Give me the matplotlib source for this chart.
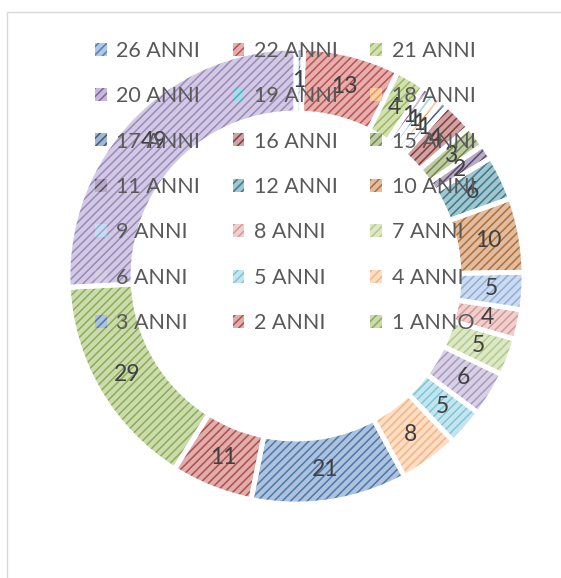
import matplotlib.pyplot as plt
import matplotlib.colors as mcolors
from matplotlib.patches import Rectangle
import numpy as np

plt.rcParams['font.family'] = ['Lato', 'DejaVu Sans']
plt.rcParams['hatch.linewidth'] = 1.1

# data (clockwise from the top)
labels = ["26 ANNI", "22 ANNI", "21 ANNI", "20 ANNI", "19 ANNI", "18 ANNI",
          "17 ANNI", "16 ANNI", "15 ANNI", "11 ANNI", "12 ANNI", "10 ANNI",
          "9 ANNI", "8 ANNI", "7 ANNI", "6 ANNI", "5 ANNI", "4 ANNI",
          "3 ANNI", "2 ANNI", "1 ANNO", ""]
values = [1, 13, 4, 1, 1, 1, 1, 4, 3, 2, 6, 10, 5, 4, 5, 6, 5, 8, 21, 11, 29, 49]
colors = ["#4F81BD", "#C0504D", "#9BBB59", "#8064A2", "#4BACC6", "#F79646",
          "#385D8A", "#8C3836", "#71893F", "#5C4776", "#357D91", "#B66D31",
          "#8EAEDB", "#D99694", "#B3CC84", "#A898C4", "#7EC6DA", "#F9B47E",
          "#4A78B0", "#B54B48", "#8CAE4E", "#9C88BE"]

def lighten(c, f):
    r, g, b = mcolors.to_rgb(c)
    return (r + (1 - r) * f, g + (1 - g) * f, b + (1 - b) * f)

W, H = 561, 578
fig = plt.figure(figsize=(W / 100, H / 100), dpi=100)
cx, cy, R = 296, 276, 228
ax = fig.add_axes([(cx - R) / W, (H - cy - R) / H, 2 * R / W, 2 * R / H])

ring = 0.285
wedges, _ = ax.pie(values, startangle=90, counterclock=False, radius=1,
                   wedgeprops=dict(width=ring, linewidth=0))
for w, c in zip(wedges, colors):
    w.set_facecolor(lighten(c, 0.55))
    w.set_edgecolor(c)
    w.set_hatch('////')
    w.set_linewidth(0)

# white gaps between slices
ax.pie(values, startangle=90, counterclock=False, radius=1,
       wedgeprops=dict(width=ring, facecolor='none', edgecolor='white', linewidth=3.5))

for w, v in zip(wedges, values):
    ang = np.deg2rad((w.theta1 + w.theta2) / 2)
    r = 1 - ring / 2
    ax.text(r * np.cos(ang), r * np.sin(ang), str(v), ha='center', va='center',
            fontsize=16.5, color='#404040')

ax.set_xlim(-1, 1)
ax.set_ylim(-1, 1)
ax.set_aspect('equal')
ax.axis('off')

# legend, filled row by row
order = [r * 3 + c for c in range(3) for r in range(7)]
leg = fig.legend([wedges[i] for i in order], [labels[i] for i in order],
                 ncol=3, loc='upper left', bbox_to_anchor=(84 / W, 1 - 30 / H),
                 frameon=False, fontsize=15.5, handlelength=0.55, handleheight=0.55,
                 handletextpad=0.45, columnspacing=1.5, labelspacing=1.18,
                 borderpad=0)
for t in leg.get_texts():
    t.set_color('#595959')

fig.patches.append(Rectangle((7 / W, -0.1), 1.2, (H - 12) / H + 0.1,
                             transform=fig.transFigure, fill=False,
                             edgecolor='#d9d9d9', linewidth=1))

fig.savefig('out.png', dpi=100)
